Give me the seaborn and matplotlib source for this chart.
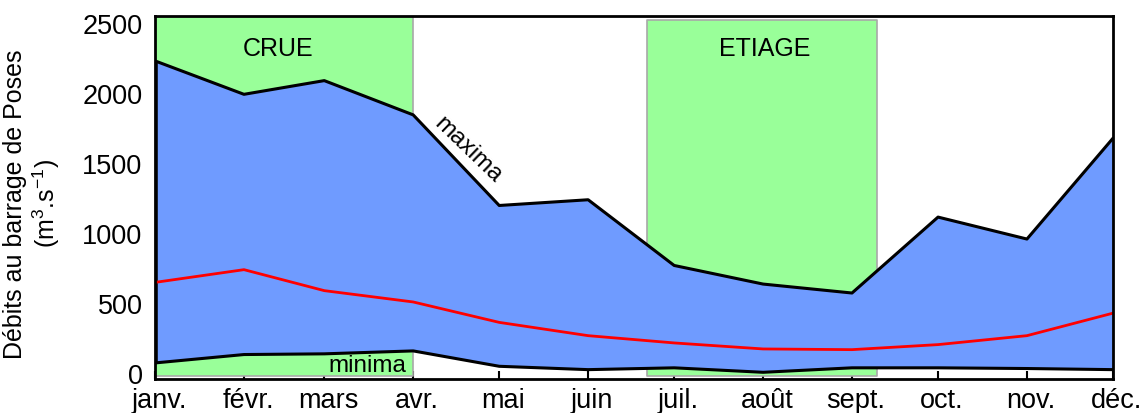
import numpy as np
import pandas as pd
import matplotlib.pyplot as plt
import matplotlib.transforms as mtransforms
import seaborn as sns

# mois et nombre de jours (position des mois sur l'axe en jours)
mois = ['janv.', 'févr.', 'mars', 'avr.', 'mai', 'juin',
        'juil.', 'août', 'sept.', 'oct.', 'nov.', 'déc.']
jours_mois = [31, 28, 31, 30, 31, 30, 31, 31, 30, 31, 30, 31]

# débits (m3/s)
maxima = [2229, 1990, 2088, 1843, 1195, 1236, 766, 633, 569, 1112, 955, 1676]
moyenne = [645, 736, 586, 505, 359, 264, 212, 169, 164, 200, 264, 425]
minima = [69, 129, 134, 155, 45, 21, 34, 2, 34, 34, 29, 21]

# périodes (en jours depuis le 1er janvier)
crue = (0, 90)
etiage = (171.5, 251.7)

jour = np.concatenate([[0], np.cumsum(jours_mois[:-1])])
df = pd.DataFrame({'jour': jour, 'maxima': maxima,
                   'moyenne': moyenne, 'minima': minima})

sns.set_style('ticks')
plt.rcParams['font.family'] = ['Liberation Sans', 'DejaVu Sans']
plt.rcParams['mathtext.default'] = 'regular'
plt.rcParams['text.color'] = 'black'
plt.rcParams['axes.labelcolor'] = 'black'

fig = plt.figure(figsize=(11.46, 4.14), dpi=100)
ax = fig.add_axes([0.1353, 0.0821, 0.8359, 0.8768])

vert = '#99ff99'
bleu = '#6f9bff'

# bandes crue / étiage
ax.fill_between(list(crue), -25, 2560, facecolor=vert, edgecolor='#a8a8a8',
                linewidth=1.2, zorder=1)
ax.fill_between(list(etiage), -25, 2524, facecolor=vert, edgecolor='#a8a8a8',
                linewidth=1.2, zorder=1)

# enveloppe min / max
ax.fill_between(df['jour'], df['minima'], df['maxima'], color=bleu,
                linewidth=0, zorder=2)
ax.vlines(0, minima[0], maxima[0], color='black', linewidth=4, zorder=3)
sns.lineplot(data=df, x='jour', y='maxima', color='black', linewidth=2.2,
             ax=ax, zorder=4)
sns.lineplot(data=df, x='jour', y='minima', color='black', linewidth=2.2,
             ax=ax, zorder=4)
sns.lineplot(data=df, x='jour', y='moyenne', color='#ff0000', linewidth=2.0,
             ax=ax, zorder=4)

# textes
ax.text(42.9, 2321, 'CRUE', ha='center', va='center', fontsize=18, zorder=5)
ax.text(212.7, 2321, 'ETIAGE', ha='center', va='center', fontsize=18, zorder=5)
ax.text(109, 1598, 'maxima', ha='center', va='center', fontsize=17.5,
        rotation=-44, rotation_mode='anchor', zorder=5)
ax.text(74, 10, 'minima', ha='center', va='baseline', fontsize=17.5, zorder=5)

ax.set_xlim(0, 334)
ax.set_ylim(-46, 2550)
ax.set_xticks(jour)
ax.set_xticklabels(mois)
ax.set_yticks([0, 500, 1000, 1500, 2000, 2500])
ax.tick_params(axis='x', direction='in', length=6, width=1.5, pad=6,
               labelsize=19.5, colors='black')
ax.tick_params(axis='y', length=0, pad=9, labelsize=19.5, colors='black')
decal = mtransforms.ScaledTranslation(4 / 100, 0, fig.dpi_scale_trans)
for lab in ax.get_xticklabels():
    lab.set_transform(lab.get_transform() + decal)
ax.set_xlabel('')
ax.set_ylabel('Débits au barrage de Poses\n(m$^3$.s$^{-1}$)', fontsize=18,
              linespacing=1.15)
ax.yaxis.set_label_coords(-0.097, 0.485)

for s in ax.spines.values():
    s.set_color('black')
    s.set_linewidth(2)
    s.set_zorder(6)

fig.savefig('out.png', dpi=100)
